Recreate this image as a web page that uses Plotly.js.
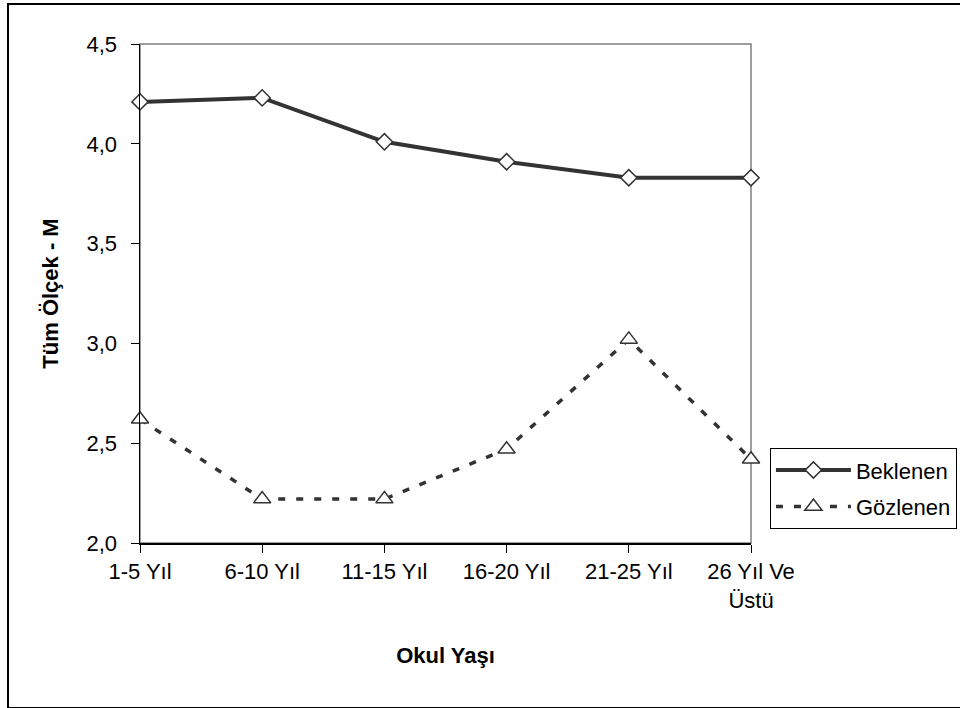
<!DOCTYPE html>
<html>
<head>
<meta charset="utf-8">
<script src="https://cdn.plot.ly/plotly-3.0.1.min.js"></script>
<style>
html,body{margin:0;padding:0;background:#fff;}
#wrap{position:relative;width:960px;height:708px;overflow:hidden;}
#chart{position:absolute;left:0;top:0;width:960px;height:708px;}
#frame{position:absolute;left:7px;top:3px;width:960px;height:702px;border:2px solid #000;pointer-events:none;}
</style>
</head>
<body>
<div id="wrap"><div id="chart"></div><div id="frame"></div></div>
<script>
const categories = ["1-5 Yıl", "6-10 Yıl", "11-15 Yıl", "16-20 Yıl", "21-25 Yıl", "26 Yıl Ve<br>Üstü"];
const beklenen = [4.21, 4.23, 4.01, 3.91, 3.83, 3.83];
const gozlenen = [2.62, 2.22, 2.22, 2.47, 3.02, 2.42];
const yTicks = [2.0, 2.5, 3.0, 3.5, 4.0, 4.5];

const FONT = "Arial, 'Liberation Sans', sans-serif";

const traces = [
  {
    x: categories, y: beklenen, name: "Beklenen", type: "scatter", mode: "lines+markers",
    legendgroup: "a",
    line: {color: "#333333", width: 4},
    marker: {symbol: "diamond", size: 12.5, color: "#ffffff", line: {color: "#333333", width: 1.5}},
    cliponaxis: false
  },
  {
    x: categories, y: gozlenen, name: "Gözlenen", type: "scatter", mode: "lines+markers",
    legendgroup: "b",
    line: {color: "#333333", width: 3.5, dash: "7px,11px"},
    marker: {symbol: "triangle-up", size: 15, color: "#ffffff", line: {color: "#333333", width: 1.5}},
    cliponaxis: false
  }
];

const layout = {
  width: 960, height: 708,
  margin: {l: 140, r: 209, t: 44, b: 165, pad: 0, autoexpand: false},
  paper_bgcolor: "#ffffff", plot_bgcolor: "#ffffff",
  font: {family: FONT, size: 22, color: "#000000"},
  separators: ",.",
  showlegend: true,
  legend: {
    x: 1.031, y: 0.19, xanchor: "left", yanchor: "top",
    bordercolor: "#000000", borderwidth: 1, bgcolor: "#ffffff",
    font: {family: FONT, size: 22, color: "#000000"},
    itemwidth: 75, traceorder: "grouped", tracegroupgap: 5
  },
  xaxis: {
    type: "category", range: [0, 5],
    showgrid: false, zeroline: false,
    showline: true, linecolor: "#000000", linewidth: 1.5,
    ticks: "outside", ticklen: 8, tickcolor: "#000000", tickwidth: 1,
    tickfont: {family: FONT, size: 22, color: "#000000"},
    title: {text: "Okul Yaşı", font: {family: FONT, size: 22, color: "#000000", weight: "bold"}, standoff: 36}
  },
  yaxis: {
    range: [2, 4.5], tickvals: yTicks, tickformat: ".1f",
    showgrid: false, zeroline: false,
    showline: true, linecolor: "#000000", linewidth: 1.5,
    ticks: "outside", ticklen: 8, tickcolor: "#000000", tickwidth: 1,
    ticklabelstandoff: 9,
    tickfont: {family: FONT, size: 22, color: "#000000"},
    title: {text: "Tüm Ölçek - M", font: {family: FONT, size: 22, color: "#000000", weight: "bold"}, standoff: 22}
  },
  shapes: [
    {type: "rect", xref: "paper", yref: "paper", x0: 0, x1: 1, y0: 0, y1: 1,
     line: {color: "#808080", width: 1.5}, layer: "below"}
  ]
};

Plotly.newPlot("chart", traces, layout, {displayModeBar: false, staticPlot: true});
</script>
</body>
</html>
